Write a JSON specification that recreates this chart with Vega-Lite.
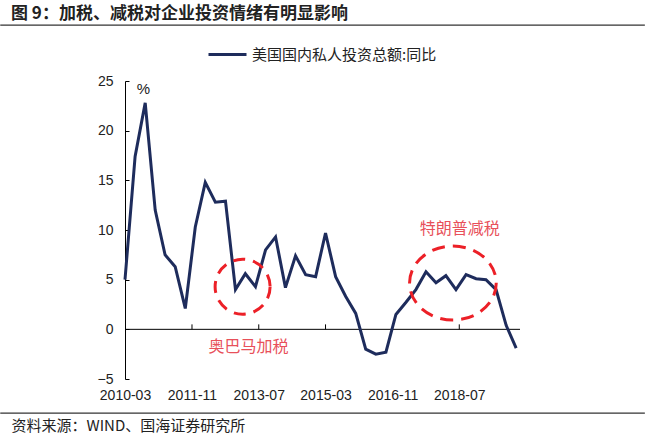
{
  "$schema": "https://vega.github.io/schema/vega-lite/v6.json",
  "width": 395,
  "height": 298,
  "autosize": {"type": "none"},
  "padding": {"left": 125, "top": 81, "right": 130, "bottom": 60},
  "background": "white",
  "config": {
    "view": {"stroke": null},
    "font": "Liberation Sans",
    "axis": {"grid": false, "labelColor": "#222", "labelFontSize": 14, "labelFont": "Liberation Sans", "domainColor": "#000", "tickColor": "#000"}
  },
  "title": {
    "text": "图 9：加税、减税对企业投资情绪有明显影响",
    "anchor": "start",
    "frame": "group",
    "font": "Noto Sans CJK SC",
    "fontSize": 17,
    "fontWeight": "bold",
    "color": "#222",
    "dx": -114,
    "dy": 19,
    "offset": 20
  },
  "datasets": {
    "series": [
      {"date": "2010-03-01T00:00:00", "value": 5.0},
      {"date": "2010-06-01T00:00:00", "value": 17.4},
      {"date": "2010-09-01T00:00:00", "value": 22.8},
      {"date": "2010-12-01T00:00:00", "value": 12.0},
      {"date": "2011-03-01T00:00:00", "value": 7.5},
      {"date": "2011-06-01T00:00:00", "value": 6.3},
      {"date": "2011-09-01T00:00:00", "value": 2.1},
      {"date": "2011-12-01T00:00:00", "value": 10.3},
      {"date": "2012-03-01T00:00:00", "value": 14.8},
      {"date": "2012-06-01T00:00:00", "value": 12.8},
      {"date": "2012-09-01T00:00:00", "value": 12.9},
      {"date": "2012-12-01T00:00:00", "value": 4.0},
      {"date": "2013-03-01T00:00:00", "value": 5.6},
      {"date": "2013-06-01T00:00:00", "value": 4.3},
      {"date": "2013-09-01T00:00:00", "value": 8.0},
      {"date": "2013-12-01T00:00:00", "value": 9.3},
      {"date": "2014-03-01T00:00:00", "value": 4.2},
      {"date": "2014-06-01T00:00:00", "value": 7.4},
      {"date": "2014-09-01T00:00:00", "value": 5.5},
      {"date": "2014-12-01T00:00:00", "value": 5.3},
      {"date": "2015-03-01T00:00:00", "value": 9.7},
      {"date": "2015-06-01T00:00:00", "value": 5.3},
      {"date": "2015-09-01T00:00:00", "value": 3.3},
      {"date": "2015-12-01T00:00:00", "value": 1.6},
      {"date": "2016-03-01T00:00:00", "value": -2.0},
      {"date": "2016-06-01T00:00:00", "value": -2.5},
      {"date": "2016-09-01T00:00:00", "value": -2.3},
      {"date": "2016-12-01T00:00:00", "value": 1.5},
      {"date": "2017-03-01T00:00:00", "value": 2.7},
      {"date": "2017-06-01T00:00:00", "value": 4.0},
      {"date": "2017-09-01T00:00:00", "value": 5.8},
      {"date": "2017-12-01T00:00:00", "value": 4.7},
      {"date": "2018-03-01T00:00:00", "value": 5.4},
      {"date": "2018-06-01T00:00:00", "value": 4.0},
      {"date": "2018-09-01T00:00:00", "value": 5.5},
      {"date": "2018-12-01T00:00:00", "value": 5.1},
      {"date": "2019-03-01T00:00:00", "value": 5.0},
      {"date": "2019-06-01T00:00:00", "value": 4.0},
      {"date": "2019-09-01T00:00:00", "value": 0.4},
      {"date": "2019-12-01T00:00:00", "value": -1.9}
    ],
    "ticks": [
      {"date": "2011-11-01T00:00:00"},
      {"date": "2013-07-01T00:00:00"},
      {"date": "2015-03-01T00:00:00"},
      {"date": "2016-11-01T00:00:00"},
      {"date": "2018-07-01T00:00:00"}
    ],
    "notes": [
      {"date": "2013-03-30T00:00:00", "value": -1.78, "label": "奥巴马加税"},
      {"date": "2018-07-05T00:00:00", "value": 10.1, "label": "特朗普减税"}
    ],
    "circle": [
      {"date": "2013-02-04T00:00:00", "value": 4.29}
    ],
    "ellipse": [
      {"date": "2018-05-04T00:00:00", "value": 4.66}
    ],
    "one": [{}]
  },
  "layer": [
    {
      "data": {"name": "one"},
      "mark": {"type": "rule", "color": "#000", "strokeWidth": 1},
      "encoding": {"y": {"datum": 0}}
    },
    {
      "data": {"name": "ticks"},
      "mark": {"type": "rule", "color": "#000", "strokeWidth": 1},
      "encoding": {
        "x": {"field": "date", "type": "temporal"},
        "y": {"datum": 0},
        "y2": {"datum": 0.5}
      }
    },
    {
      "data": {"name": "series"},
      "mark": {"type": "line", "strokeWidth": 3, "clip": false},
      "encoding": {
        "x": {
          "field": "date",
          "type": "temporal",
          "scale": {"domain": [{"year": 2010, "month": 3, "date": 1}, {"year": 2020, "month": 1, "date": 5}]},
          "axis": {
            "values": [
              {"year": 2010, "month": 3, "date": 1},
              {"year": 2011, "month": 11, "date": 1},
              {"year": 2013, "month": 7, "date": 1},
              {"year": 2015, "month": 3, "date": 1},
              {"year": 2016, "month": 11, "date": 1},
              {"year": 2018, "month": 7, "date": 1}
            ],
            "format": "%Y-%m",
            "labelFlush": false,
            "labelOverlap": false,
            "labelBound": false,
            "domain": false,
            "ticks": false,
            "tickSize": 0,
            "labelPadding": 9,
            "title": "资料来源：WIND、国海证券研究所",
            "titleFont": "Noto Sans CJK SC",
            "titleFontSize": 15,
            "titleFontWeight": "normal",
            "titleColor": "#222",
            "titleAlign": "left",
            "titleAnchor": "start",
            "titleBaseline": "middle",
            "titleX": -114,
            "titleY": 46
          }
        },
        "y": {
          "field": "value",
          "type": "quantitative",
          "scale": {"domain": [-5, 25], "nice": false, "zero": false},
          "axis": {
            "values": [-5, 0, 5, 10, 15, 20, 25],
            "tickSize": -4,
            "labelPadding": 16,
            "title": "%",
            "titleAngle": 0,
            "titleX": 18,
            "titleY": 7,
            "titleAlign": "center",
            "titleBaseline": "middle",
            "titleFontSize": 15,
            "titleFontWeight": "normal",
            "titleColor": "#222",
            "titleFont": "Liberation Sans"
          }
        },
        "color": {
          "datum": "美国国内私人投资总额:同比",
          "scale": {"range": ["#1E2C5C"]},
          "legend": {
            "title": null,
            "orient": "none",
            "legendX": 82,
            "legendY": -47,
            "symbolType": "stroke",
            "symbolSize": 1444,
            "symbolStrokeWidth": 3,
            "labelFont": "Noto Sans CJK SC",
            "labelFontSize": 15,
            "labelColor": "#222",
            "labelOffset": 4,
            "labelLimit": 400
          }
        }
      }
    },
    {
      "data": {"name": "one"},
      "mark": {"type": "rule", "color": "#333", "strokeWidth": 1.2, "clip": false},
      "encoding": {
        "x": {"datum": {"year": 2007, "month": 1, "date": 20}},
        "x2": {"datum": {"year": 2023, "month": 2, "date": 15}},
        "y": {"datum": 30.63}
      }
    },
    {
      "data": {"name": "one"},
      "mark": {"type": "rule", "color": "#333", "strokeWidth": 1.2, "clip": false},
      "encoding": {
        "x": {"datum": {"year": 2007, "month": 1, "date": 20}},
        "x2": {"datum": {"year": 2023, "month": 2, "date": 15}},
        "y": {"datum": -8.43}
      }
    },
    {
      "data": {"name": "circle"},
      "mark": {"type": "point", "shape": "circle", "size": 3025, "filled": false, "stroke": "#EC2027", "strokeWidth": 3, "strokeDash": [12, 8], "opacity": 1},
      "encoding": {
        "x": {"field": "date", "type": "temporal"},
        "y": {"field": "value", "type": "quantitative"}
      }
    },
    {
      "data": {"name": "ellipse"},
      "mark": {"type": "point", "shape": "M -1 0 A 1 0.853 0 1 1 1 0 A 1 0.853 0 1 1 -1 0 Z", "size": 7517, "filled": false, "stroke": "#EC2027", "strokeWidth": 3, "strokeDash": [13, 8], "opacity": 1},
      "encoding": {
        "x": {"field": "date", "type": "temporal"},
        "y": {"field": "value", "type": "quantitative"}
      }
    },
    {
      "data": {"name": "notes"},
      "mark": {"type": "text", "font": "Noto Sans CJK SC", "fontSize": 16, "color": "#E8505A", "align": "center", "baseline": "middle", "clip": false},
      "encoding": {
        "x": {"field": "date", "type": "temporal"},
        "y": {"field": "value", "type": "quantitative"},
        "text": {"field": "label"}
      }
    }
  ]
}
